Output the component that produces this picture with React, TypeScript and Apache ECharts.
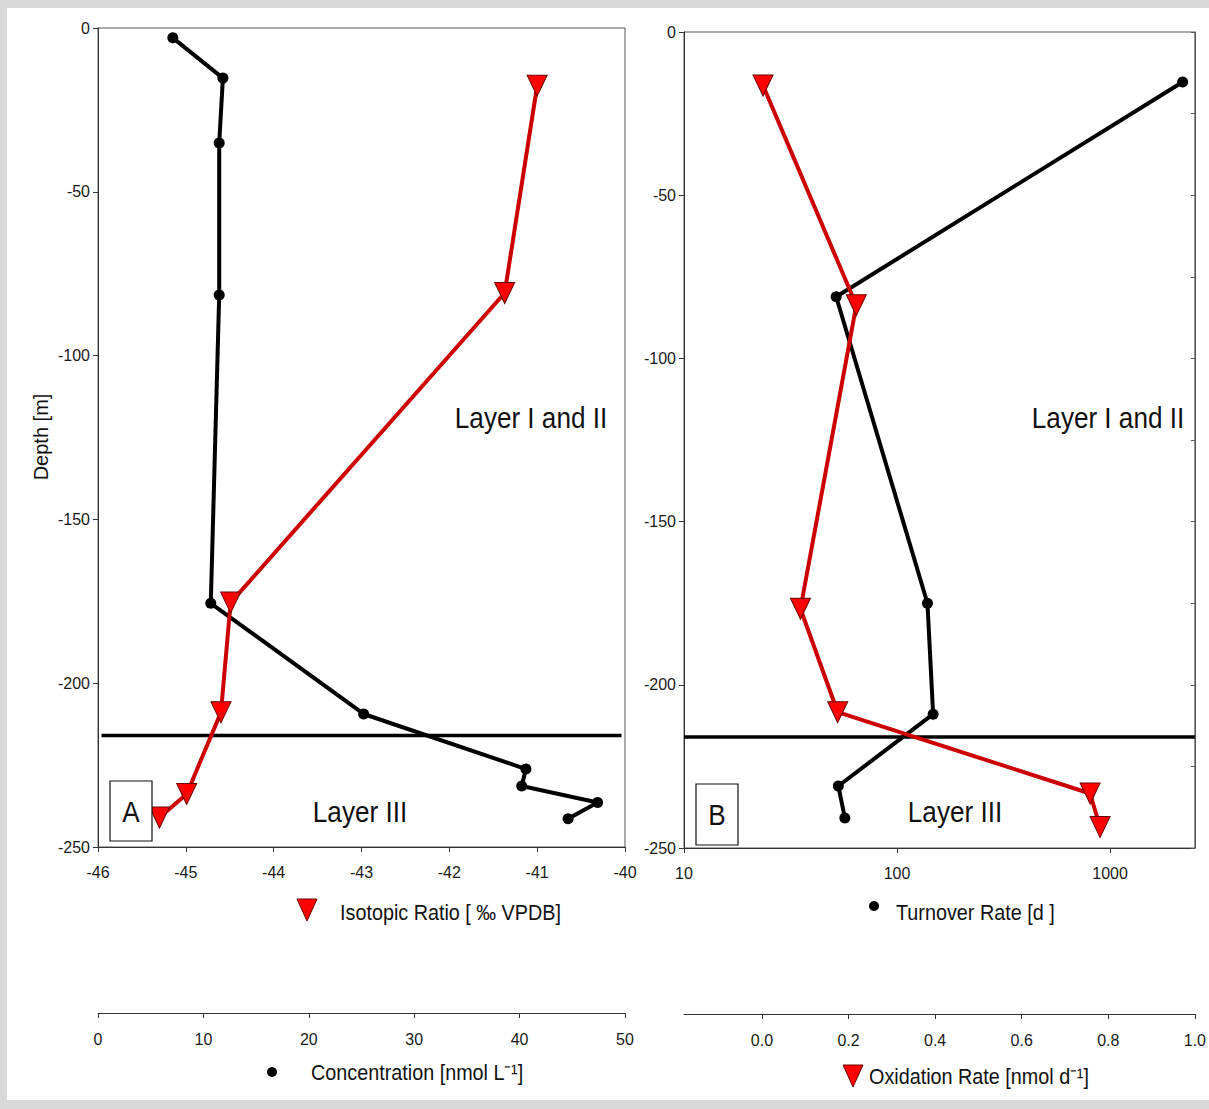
import React, { useEffect, useRef } from 'react';
import * as echarts from 'echarts';

// ---- Panel A data ----
const concDepth = [-3, -15.3, -35.1, -81.5, -175.6, -209.4, -226.2, -231.4, -236.4, -241.4];
const concentration = [7.1, 11.85, 11.5, 11.5, 10.7, 25.2, 40.6, 40.2, 47.4, 44.6];
const isoDepth = [-17.6, -80.9, -175.4, -208.9, -233.8, -241.0];
const isotopicRatio = [-41.0, -41.37, -44.49, -44.6, -44.99, -45.3];

// ---- Panel B data ----
const turnDepth = [-15.3, -81.1, -175.0, -209.0, -231.0, -240.8];
const turnoverRate = [2190, 51.8, 138.9, 147.7, 53.0, 56.9];
const oxDepth = [-16.4, -83.7, -176.7, -208.4, -233.3, -243.6];
const oxidationRate = [0.0025, 0.218, 0.089, 0.175, 0.758, 0.781];

const boundaryDepth = -216;
const oxTicks = [0, 0.2, 0.4, 0.6, 0.8, 1.0];
const turnoverLabels = [10, 100, 1000];

const ARIAL = '"Liberation Sans", Arial, sans-serif';

const zip = (xs: number[], ys: number[]) => xs.map((x, i) => [x, ys[i]]);

const axisCommon = {
  axisLine: { show: true, onZero: false, lineStyle: { color: '#333', width: 1 } },
  axisTick: { show: true, inside: false, length: 5, lineStyle: { color: '#333' } },
  splitLine: { show: false },
};

const labelStyle = { color: '#1a1a1a', fontSize: 16, fontFamily: ARIAL };

const txt = (text: string, x: number, y: number, size: number, align: string, sx: number, extra: any = {}) => ({
  type: 'text', x, y, scaleX: sx, ...extra,
  style: { text, fill: '#111', font: `${size}px ${ARIAL}`, align, verticalAlign: 'middle' },
});

export default function App() {
  const ref = useRef<HTMLDivElement>(null);
  useEffect(() => {
    if (!ref.current) return;
    const chart = echarts.init(ref.current, null, { renderer: 'svg' });
    const redItem = { color: '#ff0000', borderColor: '#6a0000', borderWidth: 1 };
    const option: any = {
      animation: false,
      backgroundColor: '#ffffff',
      grid: [
        { left: 98, top: 28, width: 527, height: 819, show: true, borderColor: '#555', borderWidth: 1, backgroundColor: 'transparent' },
        { left: 684, top: 32, width: 516, height: 816, show: true, borderColor: '#555', borderWidth: 1, backgroundColor: 'transparent' },
      ],
      xAxis: [
        {
          gridIndex: 0, type: 'value', min: -46, max: -40, interval: 1, position: 'bottom',
          ...axisCommon,
          axisLabel: { ...labelStyle, margin: 17 },
        },
        {
          gridIndex: 0, type: 'value', min: 0, max: 50, interval: 10, position: 'bottom', offset: 166,
          ...axisCommon,
          axisLabel: { ...labelStyle, margin: 18 },
        },
        {
          gridIndex: 1, type: 'log', logBase: 10, min: 10, max: 2500, position: 'bottom',
          ...axisCommon,
          minorTick: { show: false },
          axisLabel: {
            ...labelStyle, margin: 17, showMaxLabel: false,
            formatter: (v: number) => (turnoverLabels.some((t) => Math.abs(t - v) < 1e-6) ? String(Math.round(v)) : ''),
          },
        },
        {
          gridIndex: 1, type: 'value', min: -0.18, max: 1.0, position: 'bottom', offset: 166,
          ...axisCommon,
          axisTick: { show: true, inside: false, length: 5, lineStyle: { color: '#333' }, customValues: oxTicks },
          axisLabel: { ...labelStyle, margin: 18, customValues: oxTicks, formatter: (v: number) => v.toFixed(1) },
        },
      ],
      yAxis: [
        {
          gridIndex: 0, type: 'value', min: -250, max: 0, interval: 50, position: 'left',
          ...axisCommon,
          axisLabel: { ...labelStyle, margin: 8 },
        },
        {
          gridIndex: 1, type: 'value', min: -250, max: 0, interval: 50, position: 'left',
          ...axisCommon,
          axisLabel: { ...labelStyle, margin: 8 },
        },
        {
          gridIndex: 1, type: 'value', min: -250, max: 0, interval: 25, position: 'right',
          axisLine: { show: true, onZero: false, lineStyle: { color: '#555' } },
          axisTick: { show: true, inside: true, length: 4, lineStyle: { color: '#555' } },
          axisLabel: { show: false },
          splitLine: { show: false },
        },
      ],
      series: [
        {
          type: 'line', name: 'boundaryA', xAxisIndex: 0, yAxisIndex: 0,
          data: [[-45.96, boundaryDepth], [-40.04, boundaryDepth]],
          showSymbol: false, symbol: 'none', lineStyle: { color: '#000', width: 3.5 }, z: 1,
        },
        {
          type: 'line', name: 'boundaryB', xAxisIndex: 3, yAxisIndex: 1,
          data: [[-0.18, boundaryDepth], [1.0, boundaryDepth]],
          showSymbol: false, symbol: 'none', lineStyle: { color: '#000', width: 3.5 }, z: 1,
        },
        {
          type: 'line', name: 'Concentration', xAxisIndex: 1, yAxisIndex: 0,
          data: zip(concentration, concDepth),
          symbol: 'circle', symbolSize: 11, itemStyle: { color: '#000' },
          lineStyle: { color: '#000', width: 4 }, z: 2,
        },
        {
          type: 'line', name: 'Isotopic Ratio', xAxisIndex: 0, yAxisIndex: 0,
          data: zip(isotopicRatio, isoDepth),
          symbol: 'triangle', symbolRotate: 180, symbolSize: [20, 21], itemStyle: redItem,
          lineStyle: { color: '#cc0000', width: 4 }, z: 3,
        },
        {
          type: 'line', name: 'Turnover Rate', xAxisIndex: 2, yAxisIndex: 1,
          data: zip(turnoverRate, turnDepth),
          symbol: 'circle', symbolSize: 11, itemStyle: { color: '#000' },
          lineStyle: { color: '#000', width: 4 }, z: 2,
        },
        {
          type: 'line', name: 'Oxidation Rate', xAxisIndex: 3, yAxisIndex: 1,
          data: zip(oxidationRate, oxDepth),
          symbol: 'triangle', symbolRotate: 180, symbolSize: [20, 21], itemStyle: redItem,
          lineStyle: { color: '#cc0000', width: 4 }, z: 3,
        },
      ],
      graphic: [
        // grey frame
        { type: 'rect', shape: { x: 0, y: 0, width: 1209, height: 8 }, style: { fill: '#d9d9d9' }, silent: true },
        { type: 'rect', shape: { x: 0, y: 0, width: 7, height: 1109 }, style: { fill: '#d9d9d9' }, silent: true },
        { type: 'rect', shape: { x: 0, y: 1100, width: 1209, height: 9 }, style: { fill: '#d9d9d9' }, silent: true },
        // y-axis title
        {
          type: 'text', x: 41, y: 437, rotation: Math.PI / 2,
          style: { text: 'Depth [m]', fill: '#111', font: `20px ${ARIAL}`, align: 'center', verticalAlign: 'middle' },
        },
        // layer labels
        txt('Layer I and II', 531, 418, 30, 'center', 0.87),
        txt('Layer I and II', 1108, 418, 30, 'center', 0.87),
        txt('Layer III', 360, 812, 30, 'center', 0.87),
        txt('Layer III', 955, 812, 30, 'center', 0.87),
        // panel letters
        { type: 'rect', shape: { x: 110, y: 781, width: 42, height: 60 }, style: { fill: '#fff', stroke: '#111', lineWidth: 1.2 }, z: 50 },
        txt('A', 131, 812, 30, 'center', 0.87, { z: 51 }),
        { type: 'rect', shape: { x: 696, y: 784, width: 42, height: 61 }, style: { fill: '#fff', stroke: '#111', lineWidth: 1.2 }, z: 50 },
        txt('B', 717, 815, 30, 'center', 0.87, { z: 51 }),
        // legend entries
        { type: 'polygon', shape: { points: [[297, 899], [317, 899], [307, 921]] }, style: { fill: '#ff0000', stroke: '#6a0000', lineWidth: 1 } },
        txt('Isotopic Ratio [ ‰ VPDB]', 340, 912, 22, 'left', 0.9),
        { type: 'circle', shape: { cx: 272, cy: 1072, r: 5 }, style: { fill: '#000' } },
        txt('Concentration [nmol L⁻¹]', 311, 1072, 22, 'left', 0.9),
        { type: 'circle', shape: { cx: 874, cy: 906, r: 5 }, style: { fill: '#000' } },
        txt('Turnover Rate [d ]', 896, 912, 22, 'left', 0.9),
        { type: 'polygon', shape: { points: [[843, 1065], [863, 1065], [853, 1087]] }, style: { fill: '#ff0000', stroke: '#6a0000', lineWidth: 1 } },
        txt('Oxidation Rate [nmol d⁻¹]', 869, 1076, 22, 'left', 0.9),
      ],
    };
    chart.setOption(option);
    return () => chart.dispose();
  }, []);
  return <div ref={ref} style={{ position: 'fixed', left: 0, top: 0, width: 1209, height: 1109 }} />;
}
